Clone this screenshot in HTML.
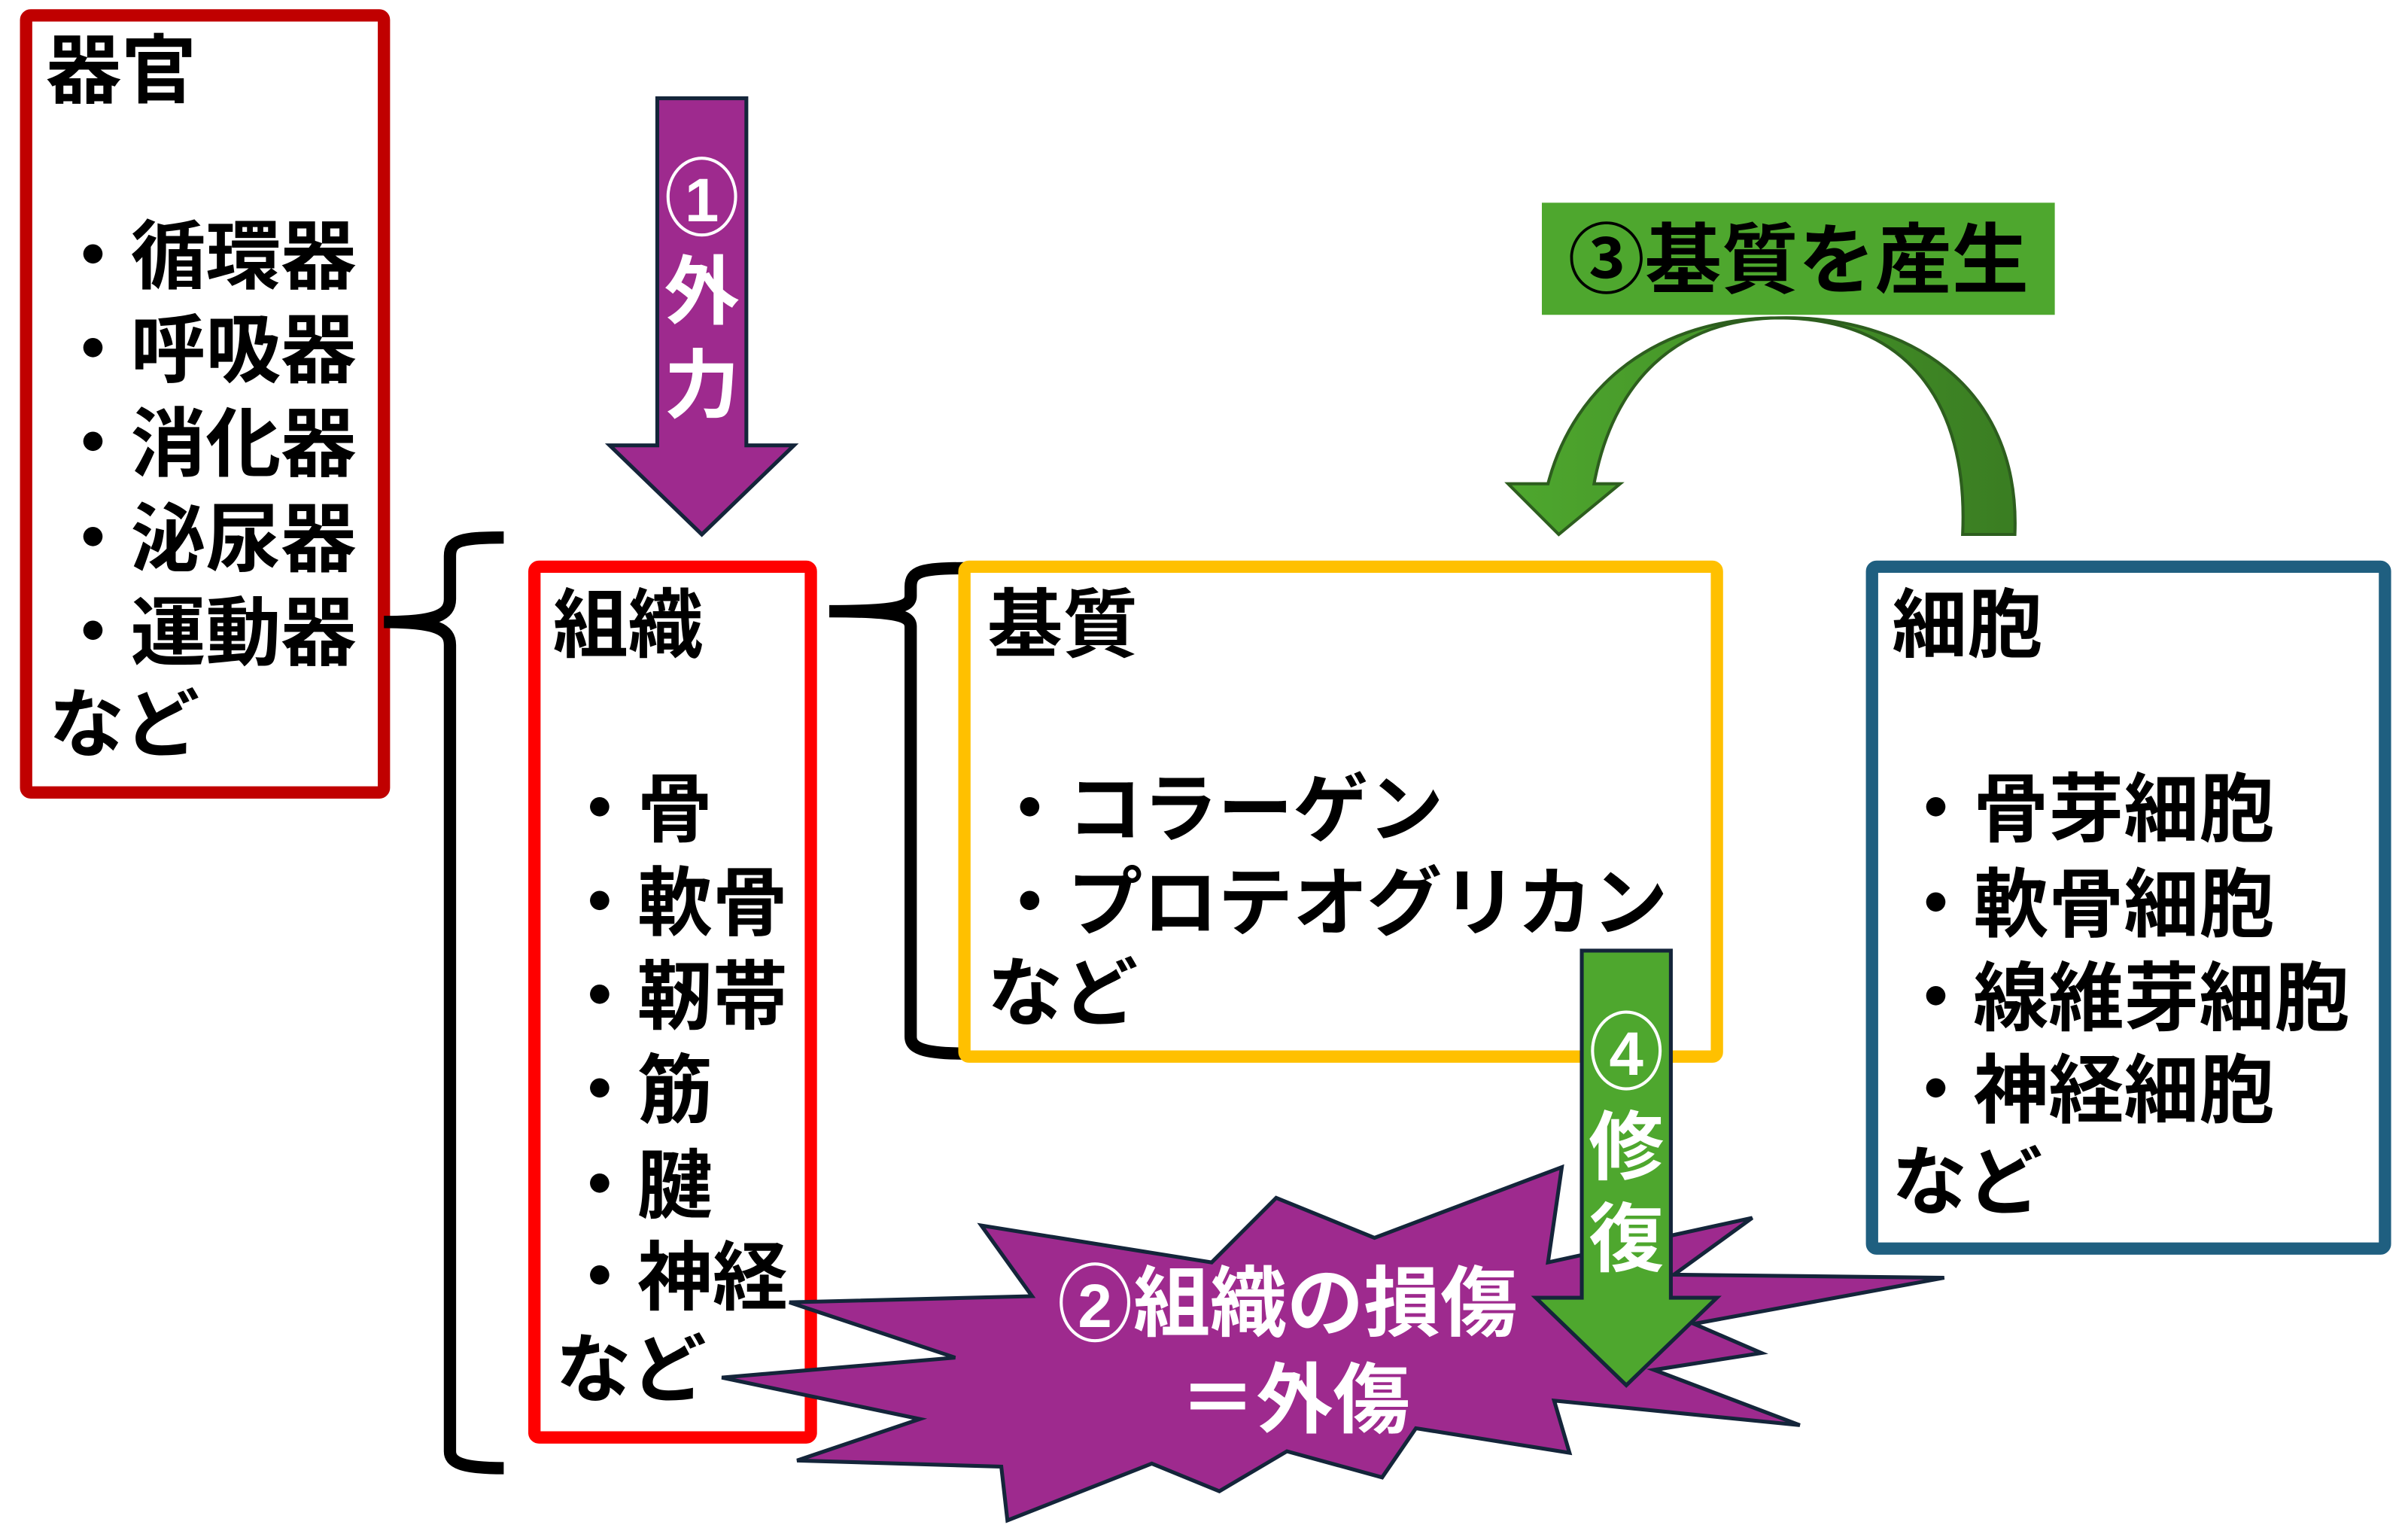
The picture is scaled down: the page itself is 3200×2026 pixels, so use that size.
<!DOCTYPE html>
<html><head><meta charset="utf-8"><style>
html,body{margin:0;padding:0;background:#fff;}
svg{display:block;}
text{font-family:"Liberation Sans","Noto Sans CJK JP",sans-serif;font-weight:bold;}
</style></head><body>
<svg width="3200" height="2026" viewBox="0 0 1568 993" preserveAspectRatio="none" xmlns="http://www.w3.org/2000/svg">
<defs>
<linearGradient id="g1" x1="0" y1="0" x2="1" y2="0">
<stop offset="0" stop-color="#4ea72e"/><stop offset="1" stop-color="#3a7d22"/>
</linearGradient>
</defs>
<rect x="17" y="10" width="233" height="506" rx="3" fill="#fff" stroke="#c00000" stroke-width="8"/>
<g font-size="49" fill="#000">
<text x="30" y="63">器官</text>
<text x="36" y="184">・循環器</text>
<text x="36" y="245">・呼吸器</text>
<text x="36" y="306">・消化器</text>
<text x="36" y="368">・泌尿器</text>
<text x="36" y="429">・運動器</text>
<text x="32" y="489">など</text>
</g>
<path d="M328,350 C300,350 293,352 293,362 L293,390 C293,400 285,405 250,405 C285,405 293,410 293,420 L293,945 C293,952 300,956 328,956" fill="none" stroke="#000" stroke-width="8"/>
<rect x="348" y="369" width="180" height="567" rx="3" fill="#fff" stroke="#ff0000" stroke-width="8"/>
<g font-size="49" fill="#000">
<text x="360" y="424">組織</text>
<text x="366" y="544">・骨</text>
<text x="366" y="605">・軟骨</text>
<text x="366" y="666">・靭帯</text>
<text x="366" y="727">・筋</text>
<text x="366" y="789">・腱</text>
<text x="366" y="849">・神経</text>
<text x="362" y="909">など</text>
</g>
<path d="M628,370 C600,370 593,372 593,382 L593,388 C593,395 585,398 540,398 C585,398 593,401 593,408 L593,675 C593,682 600,686 628,686" fill="none" stroke="#000" stroke-width="8"/>
<rect x="628" y="369" width="490" height="319" rx="3" fill="#fff" stroke="#ffc000" stroke-width="8"/>
<g font-size="49" fill="#000">
<text x="643" y="424">基質</text>
<text x="646" y="544">・コラーゲン</text>
<text x="646" y="605">・プロテオグリカン</text>
<text x="643" y="664">など</text>
</g>
<rect x="1219" y="369" width="334" height="444" rx="3" fill="#fff" stroke="#1f5f80" stroke-width="8"/>
<g font-size="49" fill="#000">
<text x="1232" y="424">細胞</text>
<text x="1236" y="544">・骨芽細胞</text>
<text x="1236" y="606">・軟骨細胞</text>
<text x="1236" y="667">・線維芽細胞</text>
<text x="1236" y="727">・神経細胞</text>
<text x="1232" y="787">など</text>
</g>
<polygon points="428,64 486,64 486,290 517,290 457,348 397,290 428,290" fill="#9e2a8e" stroke="#14253a" stroke-width="2.5"/>
<ellipse cx="457" cy="128" rx="22" ry="25" fill="none" stroke="#fff" stroke-width="2"/>
<text x="457" y="144" font-size="40" fill="#fff" text-anchor="middle" font-weight="normal">1</text>
<text x="457" y="207" font-size="49" fill="#fff" text-anchor="middle">外</text>
<text x="457" y="268" font-size="49" fill="#fff" text-anchor="middle">力</text>
<rect x="1004" y="132" width="334" height="73" fill="#4ea72e"/>
<text x="1171" y="187" font-size="50" fill="#000" text-anchor="middle">③基質を産生</text>
<path d="M1312,348 C1316,250 1240,205 1158,207 C1090,208 1050,250 1038,315 L1055,315 L1015,348 L982,315 L1008,315 C1025,250 1080,207 1158,207 C1240,207 1282,260 1278,348 Z" fill="url(#g1)" stroke="#2d5e1e" stroke-width="2"/>
<polygon points="639,798 672,844 514,848 622,884 470,897 599,924 519,951 652,955 656,990 750,953 794,971 838,945 900,962 922,930 1022,946 1012,912 1172,928 1077,892 1147,881 1103,862 1266,832 1090,830 1141,793 1008,822 1017,760 895,806 831,780 789,822" fill="#9e2a8e" stroke="#14253a" stroke-width="2.5"/>
<ellipse cx="713" cy="848" rx="22" ry="25" fill="none" stroke="#fff" stroke-width="2"/>
<text x="713" y="864" font-size="40" fill="#fff" text-anchor="middle" font-weight="normal">2</text>
<text x="738" y="866" font-size="50" fill="#fff">組織の損傷</text>
<text x="843" y="929" font-size="50" fill="#fff" text-anchor="middle">＝外傷</text>
<polygon points="1030,619 1088,619 1088,845 1118,845 1059,902 1000,845 1030,845" fill="#4ea72e" stroke="#14253a" stroke-width="2.5"/>
<ellipse cx="1059" cy="684" rx="22" ry="25" fill="none" stroke="#fff" stroke-width="2"/>
<text x="1059" y="700" font-size="40" fill="#fff" text-anchor="middle" font-weight="normal">4</text>
<text x="1059" y="764" font-size="49" fill="#fff" text-anchor="middle">修</text>
<text x="1059" y="824" font-size="49" fill="#fff" text-anchor="middle">復</text>
</svg>
</body></html>
